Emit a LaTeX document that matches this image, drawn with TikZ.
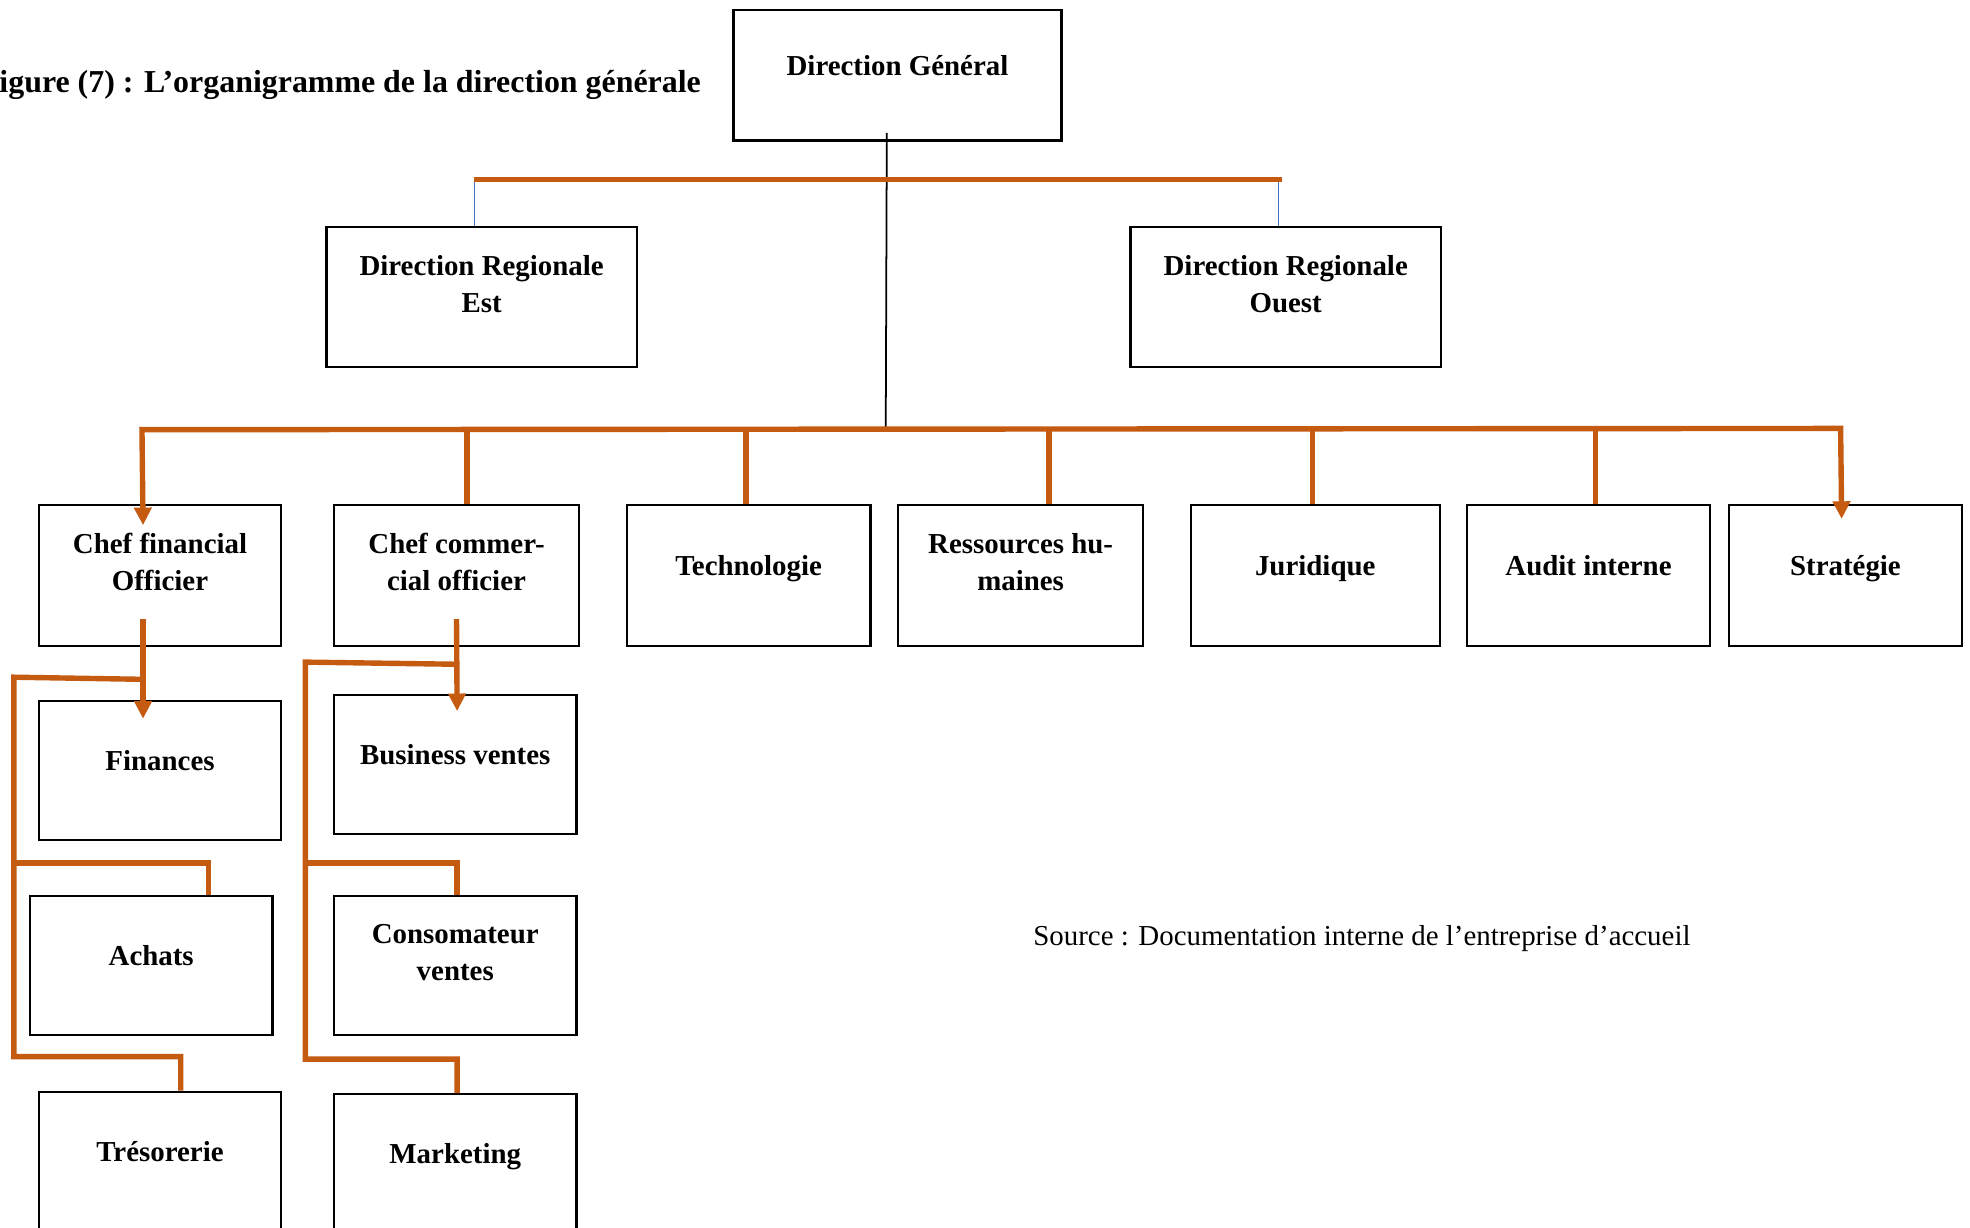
\documentclass[tikz,border=0pt]{standalone}
\usepackage{fontspec}
\setmainfont{Liberation Serif}
\usetikzlibrary{arrows.meta,calc}
\definecolor{org}{HTML}{C55A11}
\definecolor{bl}{HTML}{4472C4}
\begin{document}
\begin{tikzpicture}[x=1pt,y=-1pt,
  box/.style={draw=black,line width=1.7pt,inner sep=0pt,anchor=north west},
  lbl/.style={font=\bfseries\fontsize{23}{29.5}\selectfont,align=center,
    execute at begin node=\strut,execute at end node=\strut,yshift=6pt},
  oline/.style={draw=org,line width=4.3pt,line join=miter},
  arr/.style={-{Triangle[width=13.5pt,length=14pt]}},
  arrboth/.style={{Triangle[width=13.5pt,length=14pt]}-{Triangle[width=13.5pt,length=14pt]}},
  bline/.style={draw=bl,line width=0.8pt},
  kline/.style={draw=black,line width=1.4pt}]
\clip (0,0) rectangle (1568,977);
\fill[white] (0,0) rectangle (1568,977);

% title and source
\node[font=\bfseries\fontsize{25.4}{31}\selectfont,anchor=base east,inner sep=0pt] (title) at (558,73.5) {igure (7) : L’organigramme de la direction générale};
\node[font=\fontsize{23}{29.5}\selectfont,anchor=center,inner sep=0pt] (src) at (1084,747) {Source : Documentation interne de l’entreprise d’accueil};

% boxes
\node[box,minimum width=261pt,minimum height=104pt,label={[lbl]center:Direction Général}] (dg) at (583,7) {};
\node[box,minimum width=247pt,minimum height=111pt,label={[lbl]center:Direction Regionale\\Est}] (dre) at (259,180) {};
\node[box,minimum width=247pt,minimum height=111pt,label={[lbl]center:Direction Regionale\\Ouest}] (dro) at (899,180) {};

\node[box,minimum width=193pt,minimum height=112pt,label={[lbl]center:Chef financial\\Officier}] (cfo) at (30,401) {};
\node[box,minimum width=195pt,minimum height=112pt,label={[lbl]center:Chef commer-\\cial officier}] (cco) at (265,401) {};
\node[box,minimum width=194pt,minimum height=112pt,label={[lbl]center:Technologie}] (tech) at (498,401) {};
\node[box,minimum width=195pt,minimum height=112pt,label={[lbl]center:Ressources hu-\\maines}] (rh) at (714,401) {};
\node[box,minimum width=198pt,minimum height=112pt,label={[lbl]center:Juridique}] (jur) at (947,401) {};
\node[box,minimum width=193pt,minimum height=112pt,label={[lbl]center:Audit interne}] (aud) at (1167,401) {};
\node[box,minimum width=186pt,minimum height=112pt,label={[lbl]center:Stratégie}] (strat) at (1375,401) {};

\node[box,minimum width=193pt,minimum height=111pt,label={[lbl]center:Finances}] (fin) at (30,557) {};
\node[box,minimum width=193pt,minimum height=111pt,label={[lbl]center:Achats}] (ach) at (23,712) {};
\node[box,minimum width=193pt,minimum height=111pt,label={[lbl]center:Trésorerie}] (tre) at (30,868) {};

\node[box,minimum width=193pt,minimum height=111pt,label={[lbl]center:Business ventes}] (bus) at (265,552) {};
\node[box,minimum width=193pt,minimum height=111pt,label={[lbl]center:Consomateur\\ventes}] (con) at (265,712) {};
\node[box,minimum width=193pt,minimum height=111pt,label={[lbl]center:Marketing}] (mar) at (265,870) {};

% coordinates
\coordinate (hub) at (705,341);
\coordinate (tl) at (377,143);
\coordinate (tr) at (1020,143);
\coordinate (ml) at (113,342);
\coordinate (mr) at (1465,341);
\coordinate (fl) at (11,539);
\coordinate (fa) at (11,687);
\coordinate (cl) at (243,527);
\coordinate (ca) at (243,687);

% top level
\draw[kline] ([xshift=-8.5pt,yshift=7pt]dg.south) -- (hub);
\draw[bline] ([xshift=-5.5pt]dre.north |- tl) -- ([xshift=-5.5pt]dre.north);
\draw[bline] ([xshift=-5.5pt]dro.north |- tl) -- ([xshift=-5.5pt]dro.north);
\draw[oline] (tl) -- (tr);

% second level
\draw[oline] ([xshift=8.5pt]cco.north |- ml) -- ([xshift=8.5pt]cco.north);
\draw[oline] ([xshift=-2pt]tech.north |- ml) -- ([xshift=-2pt]tech.north);
\draw[oline] ([xshift=22.5pt]rh.north |- ml) -- ([xshift=22.5pt]rh.north);
\draw[oline] ([xshift=-2pt]jur.north |- ml) -- ([xshift=-2pt]jur.north);
\draw[oline] ([xshift=5.5pt]aud.north |- ml) -- ([xshift=5.5pt]aud.north);
\draw[oline,arrboth] ([xshift=-13.5pt,yshift=-17pt]cfo.north) -- (ml) -- (mr) -- ([xshift=-3pt,yshift=-12pt]strat.north);

% CFO subtree
\draw[oline,arr] ([xshift=-13.5pt,yshift=22pt]cfo.south) -- ([xshift=-13.5pt,yshift=-15pt]fin.north);
\draw[oline] ([xshift=16.5pt]tre.north) -- ++(0,-27) -| (fl) -- ([xshift=-13.5pt,yshift=-26pt]cfo.south);
\draw[oline] (fa) -| ([xshift=45.5pt]ach.north);

% CCO subtree
\draw[oline,arr] ([yshift=22pt]cco.south) -- ([xshift=1.5pt,yshift=-14pt]bus.north);
\draw[oline] ([xshift=1.5pt]mar.north) -- ++(0,-27) -| (cl) -- ([yshift=-14pt]cco.south);
\draw[oline] (ca) -| ([xshift=1.5pt]con.north);
\end{tikzpicture}
\end{document}
